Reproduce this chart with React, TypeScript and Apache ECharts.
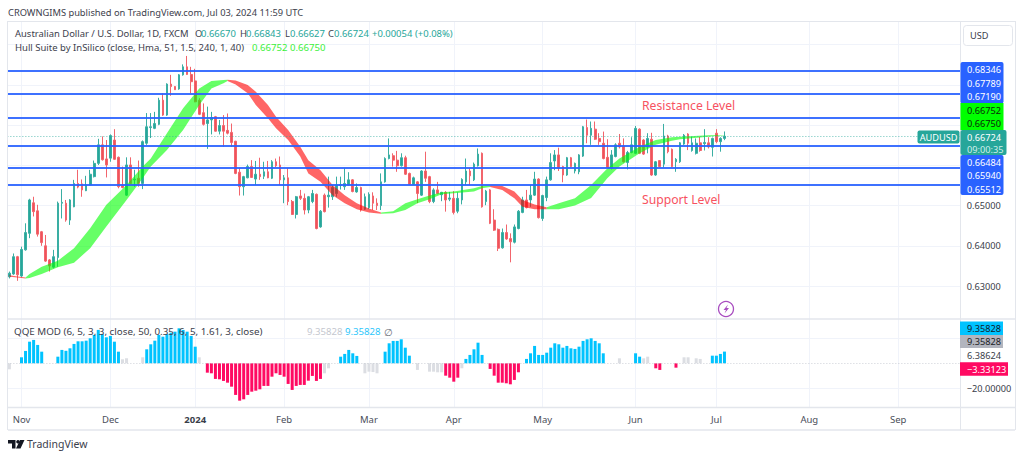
import React, { useEffect, useRef } from "react";
import * as echarts from "echarts";

const FONT = '"Noto Sans", sans-serif';
const TEAL = "#26a69a";
const RED = "#f0525a";
const BLUE = "#2962ff";

// Index of the first candle relative to Nov 1 2023
const FIRST_INDEX = -3;
const closedDays = ["2024-01-01"];
const monthNames = ["2024", "Feb", "Mar", "Apr", "May", "Jun", "Jul", "Aug", "Sep", "Oct", "Nov", "Dec"];
const CATEGORY_COUNT = 236;

// open, high, low, close in 1/10000 of USD
const candles: number[][] = [
  [6323,6336,6319,6332],[6330,6381,6328,6373],[6373,6375,6313,6328],[6325,6398,6322,6391],[6390,6456,6388,6433],
  [6431,6517,6419,6514],[6507,6522,6473,6485],[6487,6502,6423,6429],[6435,6437,6400,6408],[6400,6427,6360,6362],
  [6365,6367,6336,6350],[6347,6390,6344,6373],[6371,6510,6348,6506],[6506,6541,6468,6508],[6506,6514,6460,6464],
  [6464,6516,6452,6514],[6497,6564,6496,6555],[6555,6589,6543,6546],[6554,6565,6522,6539],[6537,6574,6536,6551],
  [6551,6589,6550,6578],[6572,6612,6570,6605],[6605,6666,6601,6651],[6651,6672,6612,6614],[6616,6663,6570,6601],
  [6618,6677,6609,6674],[6663,6690,6614,6615],[6620,6622,6543,6547],[6549,6597,6543,6545],[6526,6620,6524,6601],
  [6601,6620,6553,6555],[6564,6589,6547,6566],[6568,6612,6547,6555],[6555,6662,6541,6659],[6655,6730,6651,6696],
  [6694,6730,6668,6696],[6692,6733,6690,6704],[6702,6768,6700,6762],[6762,6779,6723,6725],[6725,6804,6723,6802],
  [6802,6825,6773,6796],[6796,6797,6788,6788],[6790,6827,6788,6825],[6825,6851,6823,6845],[6845,6872,6825,6826],
  [6826,6845,6779,6808],[6810,6840,6757,6758],[6762,6767,6725,6727],[6731,6754,6699,6702],[6704,6746,6641,6713],
  [6713,6733,6677,6719],[6721,6723,6684,6685],[6685,6713,6677,6699],[6699,6725,6646,6685],[6687,6729,6677,6680],
  [6682,6704,6646,6657],[6660,6661,6578,6580],[6583,6593,6525,6547],[6547,6574,6525,6572],[6569,6602,6568,6597],
  [6597,6613,6569,6570],[6566,6611,6551,6578],[6578,6619,6564,6572],[6573,6609,6566,6584],[6584,6611,6568,6569],
  [6568,6613,6566,6609],[6609,6617,6596,6599],[6601,6622,6551,6564],[6564,6576,6506,6569],[6569,6593,6501,6510],
  [6510,6514,6477,6478],[6478,6524,6468,6522],[6524,6539,6514,6518],[6518,6530,6478,6489],[6489,6524,6481,6522],
  [6510,6539,6506,6530],[6528,6530,6441,6443],[6447,6489,6445,6486],[6526,6530,6483,6485],[6522,6572,6495,6526],
  [6522,6551,6514,6545],[6530,6572,6522,6551],[6550,6572,6540,6552],[6547,6593,6539,6555],[6551,6583,6549,6564],
  [6564,6566,6533,6535],[6534,6555,6532,6545],[6545,6547,6485,6489],[6491,6530,6489,6522],[6495,6533,6491,6528],
  [6524,6533,6489,6506],[6506,6518,6489,6500],[6500,6580,6489,6559],[6559,6620,6557,6617],[6617,6667,6615,6626],
  [6624,6630,6597,6613],[6613,6636,6584,6599],[6599,6630,6597,6619],[6619,6624,6576,6578],[6580,6582,6551,6553],
  [6553,6572,6551,6569],[6559,6561,6506,6530],[6526,6588,6524,6586],[6586,6634,6559,6568],[6572,6574,6506,6510],
  [6510,6543,6506,6539],[6539,6559,6528,6530],[6527,6534,6511,6533],[6533,6536,6485,6514],[6516,6534,6511,6519],
  [6518,6536,6478,6483],[6486,6533,6481,6518],[6514,6568,6503,6565],[6559,6617,6551,6586],[6586,6593,6551,6574],
  [6564,6607,6561,6603],[6599,6642,6597,6628],[6630,6632,6495,6497],[6510,6539,6501,6536],[6539,6541,6454,6456],
  [6464,6491,6437,6439],[6441,6443,6387,6394],[6395,6443,6393,6433],[6433,6453,6415,6417],[6418,6431,6359,6410],
  [6409,6453,6406,6447],[6443,6489,6441,6486],[6483,6522,6481,6514],[6514,6539,6493,6495],[6514,6551,6497,6526],
  [6526,6584,6524,6566],[6566,6568,6468,6470],[6468,6527,6462,6525],[6520,6572,6511,6564],[6564,6630,6562,6607],
  [6611,6638,6588,6626],[6626,6644,6586,6593],[6597,6599,6558,6576],[6576,6621,6574,6619],[6619,6621,6595,6597],
  [6586,6607,6580,6605],[6584,6628,6578,6626],[6623,6698,6621,6696],[6694,6714,6655,6675],[6675,6709,6651,6692],
  [6690,6709,6663,6665],[6667,6680,6651,6659],[6655,6684,6615,6617],[6620,6665,6593,6595],[6593,6638,6590,6626],
  [6622,6655,6620,6651],[6655,6678,6642,6646],[6648,6667,6607,6609],[6607,6636,6590,6632],[6632,6670,6630,6651],
  [6630,6698,6628,6692],[6690,6692,6628,6630],[6663,6665,6626,6628],[6646,6680,6630,6667],[6665,6681,6574,6576],
  [6576,6611,6574,6609],[6612,6613,6595,6597],[6603,6703,6595,6673],[6673,6676,6630,6634],[6640,6642,6595,6597],
  [6609,6618,6584,6615],[6609,6658,6606,6656],[6653,6678,6651,6675],[6678,6680,6638,6655],[6637,6671,6634,6656],
  [6630,6667,6627,6655],[6656,6671,6634,6637],[6654,6690,6637,6657],[6656,6670,6642,6646],[6645,6669,6622,6667],
  [6680,6690,6655,6659],[6659,6670,6634,6667],[6667,6684.3,6662.7,6672.4],
];

const levels = [0.68346, 0.67789, 0.6719, 0.66484, 0.6594, 0.65512];
const lastPrice = 0.66724;
const priceGridValues = [0.63, 0.64, 0.65, 0.66, 0.67, 0.68, 0.69];
const priceAxisLabels = [0.63, 0.64, 0.65];

// Hull band, sampled along the curve
const hullIndex = [-3,-1,1,2,5,9,13,17,21,26,30,32,36,40,44,47,50,51,53,56,58,61,63,66,69,71,74,77,80,83,86,89,92,95,98,101,104,107,112,114,116,119,122,124,127,130,133,137,141,145,148,153,157,161,163,170,174];
const hullUpper = [6327,6324,6321,6330,6348,6363,6394,6444,6502,6551,6597,6617,6680,6742,6791,6810,6812,6813,6811,6800,6783,6750,6721,6688,6646,6613,6588,6551,6526,6506,6493,6483,6486,6506,6516,6525,6533,6535,6543,6549,6550,6549,6535,6514,6503,6496,6506,6518,6551,6592,6617,6646,6663,6670,6671,6675,6675.2];
const hullLower = [6323,6321,6319,6320,6330,6347,6358,6394,6448,6514,6568,6597,6638,6688,6750,6791,6804,6810,6801,6779,6750,6717,6692,6663,6622,6580,6559,6526,6506,6491,6483,6480,6481,6489,6506,6516,6528,6531,6535,6543,6546,6539,6518,6497,6491,6491,6491,6500,6519,6568,6597,6630,6651,6661,6665,6671,6675];
const hullTurns = [1, 51, 89, 116, 130, 174];

// QQE MOD histogram: runs of bars sharing a tone, starting at an index
const oscRuns: [number, string, number[]][] = [
  [-3, "g", [-4.8]],
  [0, "c", [4.8,9.9,17.3,18.7,14.7,9.3]],
  [9, "c", [5.3,10.7,10,12,15.5,17.6,17.6,18.1,20,22.7,26.7,23.5,20.8,21.9,17.3,9.3]],
  [25, "g", [3.2,4]],
  [30, "g", [4.8]],
  [31, "c", [11.2,15.2,18.1,22.7,21.3,23.5,24.5,25.3,28,26.7,25.3,21.9,13.3]],
  [44, "g", [4.8]],
  [46, "p", [-7.5,-8,-12.5,-12.8,-14.1,-15.5,-18.7,-25.3,-29.9,-28.8,-25.3,-22.7,-21.9,-20.8,-18.1,-18.1,-10.7,-8,-9.3,-10.7,-16.5,-21.3,-18.1,-17.3,-17.3,-13.9,-10.1,-14.1,-12.5]],
  [75, "g", [-8,-4]],
  [79, "c", [5.3,7.5,10.7,8,5.9]],
  [85, "g", [-8,-6.7,-7,-8]],
  [90, "c", [9.3,16,17.9,17.9,19.2,12.5,6.1]],
  [98, "g", [-5.3]],
  [101, "g", [-6.7,-6.7,-7.2,-7.2]],
  [105, "p", [-9.9,-11.5,-14.7,-11.5]],
  [109, "g", [-4]],
  [110, "c", [3.5,6.7,11.2,16.5,6.7]],
  [116, "p", [-4.5,-9.9,-15.5,-15.5,-16,-16.8,-13.3,-7.2]],
  [125, "c", [3.5,8,13.9,6.7,6.7,8.5,12.5,16,15.2,12.5,13.9,12,11.5,13.3,17.9,19.2,20,17.9,16,8]],
  [148, "g", [4]],
  [152, "c", [8,5.3]],
  [154, "g", [4,5.3]],
  [157, "p", [-4,-5.3]],
  [162, "p", [-3.5]],
  [164, "g", [4.8,4.8]],
  [167, "g", [4,3.5]],
  [171, "c", [6.1,6.1,7.5,9.36]],
];
const oscTones: Record<string, string> = { c: "#00c3ff", p: "#ff0a62", g: "#dcdee3" };

function buildCategories(): string[] {
  const out: string[] = [];
  let t = Date.UTC(2023, 9, 27);
  while (out.length < CATEGORY_COUNT) {
    const d = new Date(t);
    const iso = d.toISOString().slice(0, 10);
    if (d.getUTCDay() % 6 !== 0 && !closedDays.includes(iso)) out.push(iso);
    t += 86400000;
  }
  return out;
}

function T(x: number, y: number, text: string, fill: string, size = 9.2, weight: any = "normal", align: any = "left") {
  return {
    type: "text",
    x,
    y,
    z: 120,
    silent: true,
    style: { text, fill, fontFamily: FONT, fontSize: size, fontWeight: weight, textAlign: align, textVerticalAlign: "middle" },
  };
}
function R(x: number, y: number, w: number, h: number, fill: string, r = 0, stroke?: string) {
  return { type: "rect", z: 110, silent: true, shape: { x, y, width: w, height: h, r }, style: { fill, stroke } };
}
function L(x1: number, y1: number, x2: number, y2: number, stroke = "#e3e6ec", lineWidth = 1) {
  return { type: "line", z: 105, silent: true, shape: { x1, y1, x2, y2 }, style: { stroke, lineWidth } };
}

export default function App() {
  const ref = useRef<HTMLDivElement>(null);
  useEffect(() => {
    document.body.style.margin = "0";
    document.body.style.background = "#fff";
    const chart = echarts.init(ref.current!, undefined, { renderer: "svg" });

    const categories = buildCategories();
    const monthLabels: Record<number, string> = {};
    let lastMonth = "2023-10";
    categories.forEach((c, i) => {
      const m = c.slice(0, 7);
      if (m !== lastMonth) {
        lastMonth = m;
        monthLabels[i] = monthNames[Number(m.slice(5)) - 1];
      }
    });
    const isMonth = (i: number) => monthLabels[i] !== undefined;

    const candleData = candles.map(([o, h, l, c]) => [o / 1e4, c / 1e4, l / 1e4, h / 1e4]);

    const toK = (i: number) => i - FIRST_INDEX;
    const hullRuns: { rising: boolean; pts: number[][] }[] = [];
    let startPos = 0;
    hullTurns.forEach((turn, r) => {
      const endPos = hullIndex.indexOf(turn);
      const pts: number[][] = [];
      for (let p = startPos; p <= endPos; p++) pts.push([toK(hullIndex[p]), hullUpper[p] / 1e4, hullLower[p] / 1e4]);
      hullRuns.push({ rising: r % 2 === 1, pts });
      startPos = endPos;
    });

    const oscData: any[] = [];
    oscRuns.forEach(([start, tone, vals]) => {
      vals.forEach((v, n) => {
        oscData.push({ value: [toK(start + n), v], itemStyle: { color: oscTones[tone] } });
      });
    });

    const splitX = {
      show: true,
      alignWithLabel: true,
      interval: (i: number) => isMonth(i),
      lineStyle: { color: "#f0f3fa", width: 1 },
    };

    const option: any = {
      animation: false,
      backgroundColor: "#ffffff",
      textStyle: { fontFamily: FONT },
      grid: [
        { left: 7.36, top: 22, width: 953.44, height: 297, containLabel: false },
        { left: 7.36, top: 319, width: 953.44, height: 88, containLabel: false },
      ],
      xAxis: [
        {
          type: "category",
          gridIndex: 0,
          data: categories,
          axisLine: { show: false },
          axisTick: { show: false, alignWithLabel: true, interval: (i: number) => isMonth(i) },
          axisLabel: { show: false },
          splitLine: splitX,
        },
        {
          type: "category",
          gridIndex: 1,
          data: categories,
          axisLine: { show: false },
          axisTick: { show: false, alignWithLabel: true, interval: (i: number) => isMonth(i) },
          axisLabel: {
            show: true,
            margin: 7,
            interval: (i: number) => isMonth(i),
            formatter: (_v: string, i: number) => {
              const s = monthLabels[i] ?? "";
              return s === "2024" ? "{b|2024}" : s;
            },
            rich: { b: { fontFamily: FONT, fontSize: 9.5, fontWeight: "bold", color: "#3a3e4a" } },
            fontFamily: FONT,
            fontSize: 9.5,
            color: "#4a4e5a",
            hideOverlap: false,
          },
          splitLine: splitX,
        },
      ],
      yAxis: [
        {
          type: "value",
          gridIndex: 0,
          position: "right",
          scale: true,
          min: 0.62181,
          max: 0.69564,
          axisLine: { show: false },
          axisTick: { show: false, customValues: priceGridValues },
          axisLabel: {
            show: true,
            customValues: priceAxisLabels,
            margin: 6,
            formatter: (v: number) => v.toFixed(5),
            fontFamily: FONT,
            fontSize: 9.2,
            color: "#3a3e4a",
          },
          splitLine: { show: true, lineStyle: { color: "#f0f3fa", width: 1 } },
        },
        {
          type: "value",
          gridIndex: 1,
          position: "right",
          min: -34.96,
          max: 35.44,
          axisLine: { show: false },
          axisTick: { show: false, customValues: [-20, 20] },
          axisLabel: {
            show: true,
            customValues: [-20],
            margin: 6,
            formatter: () => "\u221220.00000",
            fontFamily: FONT,
            fontSize: 9.2,
            color: "#3a3e4a",
          },
          splitLine: { show: true, lineStyle: { color: "#f0f3fa", width: 1 } },
        },
      ],
      series: [
        {
          type: "candlestick",
          name: "AUDUSD",
          xAxisIndex: 0,
          yAxisIndex: 0,
          z: 3,
          barWidth: 2.2,
          data: candleData,
          itemStyle: {
            color: TEAL,
            color0: RED,
            borderColor: "#3aaea3",
            borderColor0: "#f2656c",
            borderWidth: 1,
          },
          markLine: {
            silent: true,
            symbol: "none",
            animation: false,
            precision: 5,
            label: { show: false },
            z: 6,
            data: [
              ...levels.map((v) => ({ yAxis: v, lineStyle: { color: BLUE, width: 1.8, type: "solid", opacity: 0.9 } })),
              { yAxis: lastPrice, lineStyle: { color: TEAL, width: 1, type: [1, 2], opacity: 0.7 } },
            ],
          },
        },
        {
          type: "custom",
          name: "Hull Suite",
          xAxisIndex: 0,
          yAxisIndex: 0,
          z: 4,
          silent: true,
          clip: true,
          data: hullRuns.map((run) => [run.pts[0][0], run.pts[0][1]]),
          encode: { x: 0, y: 1 },
          renderItem: (params: any, api: any) => {
            const run = hullRuns[params.dataIndex];
            const top = run.pts.map((p) => api.coord([p[0], p[1]]));
            const bottom = run.pts.map((p) => api.coord([p[0], p[2]])).reverse();
            return {
              type: "polygon",
              shape: { points: [...top, ...bottom] },
              style: { fill: run.rising ? "rgba(0,255,0,0.6)" : "rgba(255,0,0,0.6)" },
            };
          },
        },
        {
          type: "bar",
          name: "QQE MOD",
          xAxisIndex: 1,
          yAxisIndex: 1,
          barWidth: 3,
          data: oscData,
          markLine: {
            silent: true,
            symbol: "none",
            animation: false,
            precision: 2,
            label: { show: false },
            data: [{ yAxis: 0, lineStyle: { color: "#b8bcc6", width: 1, type: [1, 2], opacity: 0.7 } }],
          },
        },
      ],
      graphic: [
        // frame
        L(8, 21.5, 1015, 21.5),
        L(7.5, 21, 7.5, 430),
        L(1015.5, 21, 1015.5, 430),
        L(8, 430, 1015, 430, "#e3e6ec", 1.5),
        L(960.5, 21, 960.5, 430),
        L(8, 319, 1015, 319, "#e3e6ec", 1.5),
        L(8, 407.5, 1015, 407.5, "#e3e6ec", 1.5),

        T(8, 12, "CROWNGIMS published on TradingView.com, Jul 03, 2024 11:59 UTC", "#3c404c", 9.3),

        T(15, 33, "Australian Dollar / U.S. Dollar, 1D, FXCM", "#3c404c", 9.45),
        T(195, 33, "O", "#3c404c", 9.45),
        T(201, 33, "0.66670", TEAL, 9.45),
        T(240, 33, "H", "#3c404c", 9.45),
        T(246, 33, "0.66843", TEAL, 9.45),
        T(285, 33, "L", "#3c404c", 9.45),
        T(290, 33, "0.66627", TEAL, 9.45),
        T(328, 33, "C", "#3c404c", 9.45),
        T(334, 33, "0.66724", TEAL, 9.45),
        T(372, 33, "+0.00054", TEAL, 9.45),
        T(415, 33, "(+0.08%)", TEAL, 9.45),
        T(15, 47, "Hull Suite by InSilico (close, Hma, 51, 1.5, 240, 1, 40)", "#3c404c", 9.5),
        T(252, 47, "0.66752", "#3cf03c", 9.6),
        T(290, 47, "0.66750", "#3cf03c", 9.6),

        T(642, 105, "Resistance Level", "#f7525f", 12.2),
        T(642, 199, "Support Level", "#f7525f", 12.2),

        // USD button
        R(963.5, 25.5, 49, 20, "#ffffff", 3, "#e3e6ec"),
        T(970, 35, "USD", "#3c404c", 9.2),

        // price tags
        R(960.5, 62, 43, 41.5, BLUE, 2),
        T(967, 69, "0.68346", "#ffffff"),
        T(967, 83, "0.67789", "#ffffff"),
        T(967, 96.5, "0.67190", "#ffffff"),
        R(960.5, 103, 43, 27, "#00ff00"),
        T(967, 110, "0.66752", "#0a2a0a"),
        T(967, 123.5, "0.66750", "#0a2a0a"),
        R(960.5, 155, 43, 40, BLUE, 2),
        T(967, 162, "0.66484", "#ffffff"),
        T(967, 175, "0.65940", "#ffffff"),
        T(967, 189, "0.65512", "#ffffff"),
        R(960.5, 130, 46, 25, TEAL, 2),
        T(967, 137, "0.66724", "#ffffff"),
        T(967, 149, "09:00:35", "#cfeeea"),
        R(917.5, 130.5, 42, 13, TEAL, 2),
        T(938.5, 137, "AUDUSD", "#ffffff", 9.2, "normal", "center"),

        // indicator
        T(14, 331, "QQE MOD (6, 5, 3, 3, close, 50, 0.35, 6, 5, 1.61, 3, close)", "#3c404c", 9.8),
        T(307, 331, "9.35828", "#c4c7cf", 9.6),
        T(345, 331, "9.35828", "#2cc6fb", 9.6),
        T(384, 331.5, "\u2205", "#6a6e7a", 10),
        R(960, 321.5, 43, 13.5, "#00c3ff"),
        T(967, 328.5, "9.35828", "#10202a"),
        R(960, 335, 43, 13, "#b2b5be"),
        T(967, 341.5, "9.35828", "#1c1e26"),
        T(967, 355, "6.38624", "#3a3e4a"),
        R(960, 362.3, 48, 13.4, "#ff0a62"),
        T(967, 369, "\u22123.33123", "#ffffff"),

        // lightning badge
        {
          type: "circle",
          z: 115,
          silent: true,
          shape: { cx: 726, cy: 309, r: 7.5 },
          style: { fill: "#ffffff", stroke: "#a94ec0", lineWidth: 1.3 },
        },
        {
          type: "polygon",
          z: 116,
          silent: true,
          shape: { points: [[728, 304.5], [723.5, 310], [726, 310], [724.5, 313.5], [729, 308], [726.5, 308]] },
          style: { fill: "#a94ec0" },
        },

        // TradingView logo
        {
          type: "polygon",
          z: 116,
          silent: true,
          shape: { points: [[8, 440], [15.5, 440], [15.5, 448.5], [12, 448.5], [12, 443.5], [8, 443.5]] },
          style: { fill: "#131722" },
        },
        { type: "circle", z: 116, silent: true, shape: { cx: 18, cy: 441.8, r: 1.8 }, style: { fill: "#131722" } },
        {
          type: "polygon",
          z: 116,
          silent: true,
          shape: { points: [[20, 440], [24.5, 440], [20.5, 448.5], [16, 448.5]] },
          style: { fill: "#131722" },
        },
        T(27, 444, "TradingView", "#3c404c", 10.5),
      ],
    };
    chart.setOption(option);
    return () => chart.dispose();
  }, []);
  return <div ref={ref} style={{ position: "fixed", left: 0, top: 0, width: 1024, height: 458 }} />;
}
